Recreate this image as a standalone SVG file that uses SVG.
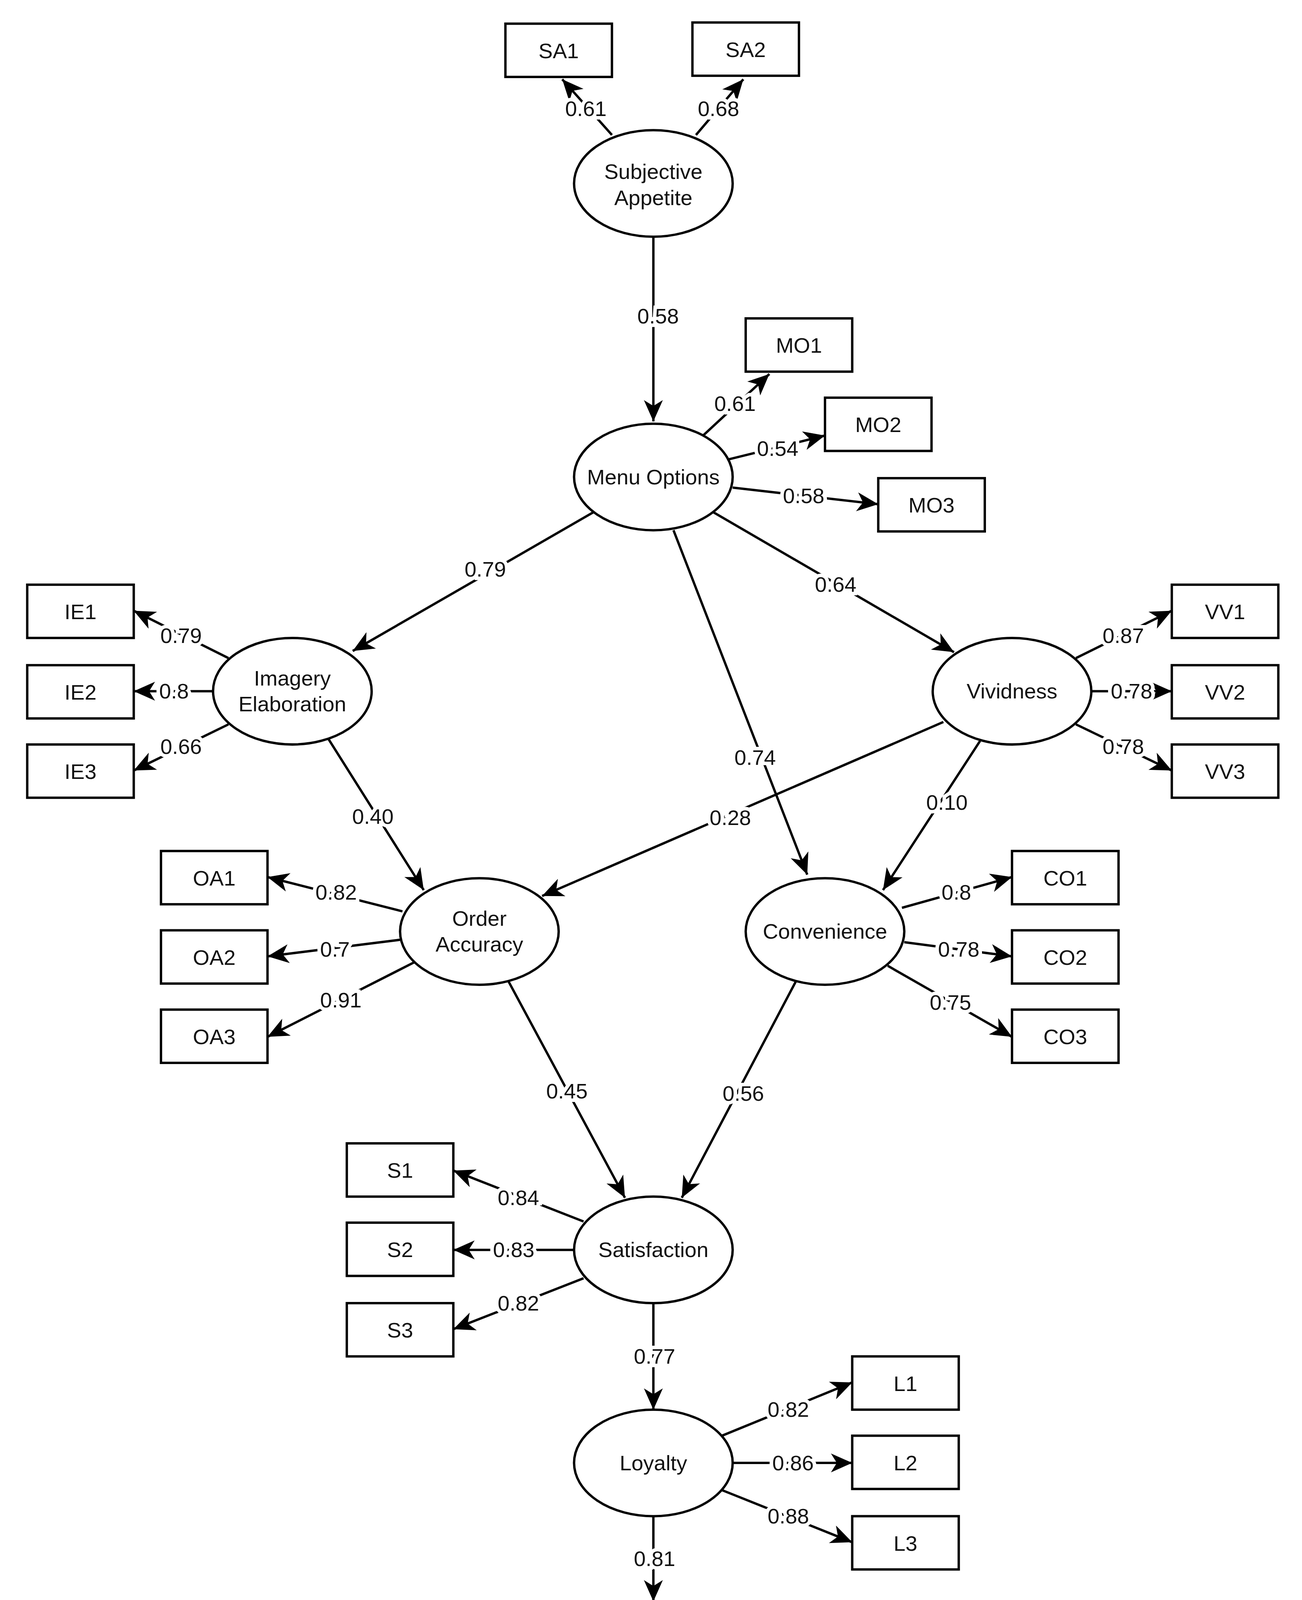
<svg xmlns="http://www.w3.org/2000/svg" width="3333" height="4746" viewBox="0 0 3333 4746">
<style>
.n{fill:#fff;stroke:#000;stroke-width:2}
.t{font-family:"Liberation Sans",Arial,sans-serif;font-size:18px;text-anchor:middle;dominant-baseline:central;fill:#111}
.e line{stroke:#000;stroke-width:2;marker-end:url(#a)}
.l{font-family:"Liberation Sans",Arial,sans-serif;font-size:18px;text-anchor:middle;dominant-baseline:central;fill:#111;stroke:#fff;stroke-width:6;paint-order:stroke}
</style>
<defs><marker id="a" markerUnits="userSpaceOnUse" markerWidth="20" markerHeight="16" refX="18" refY="8" orient="auto"><path d="M0,0 L18,8 L0,16 L5,8 Z" fill="#000"/></marker></defs>
<rect width="3333" height="4746" fill="#fff"/>
<g transform="scale(3.03)">
<g class="e" id="connectors">
<line x1="517" y1="114" x2="475" y2="67"/>
<line x1="588" y1="114" x2="628" y2="67"/>
<line x1="552" y1="200" x2="552" y2="356"/>
<line x1="594" y1="368" x2="650" y2="316"/>
<line x1="616" y1="388" x2="697" y2="368"/>
<line x1="619" y1="412" x2="742" y2="426"/>
<line x1="501" y1="433" x2="298" y2="550"/>
<line x1="603" y1="433" x2="806" y2="551"/>
<line x1="569" y1="448" x2="682" y2="739"/>
<line x1="909" y1="556" x2="990" y2="516"/>
<line x1="922" y1="584" x2="990" y2="584"/>
<line x1="909" y1="612" x2="990" y2="651"/>
<line x1="193" y1="556" x2="113" y2="516"/>
<line x1="180" y1="584" x2="113" y2="584"/>
<line x1="193" y1="612" x2="113" y2="651"/>
<line x1="276" y1="622" x2="358" y2="752"/>
<line x1="797" y1="610" x2="458" y2="757"/>
<line x1="828" y1="626" x2="746" y2="752"/>
<line x1="340" y1="770" x2="226" y2="741"/>
<line x1="338" y1="794" x2="226" y2="808"/>
<line x1="350" y1="813" x2="226" y2="876"/>
<line x1="762" y1="767" x2="855" y2="741"/>
<line x1="764" y1="796" x2="855" y2="808"/>
<line x1="750" y1="816" x2="855" y2="876"/>
<line x1="429" y1="828" x2="528" y2="1012"/>
<line x1="673" y1="828" x2="576" y2="1012"/>
<line x1="493" y1="1032" x2="383" y2="989"/>
<line x1="485" y1="1056" x2="383" y2="1056"/>
<line x1="493" y1="1080" x2="383" y2="1123"/>
<line x1="552" y1="1101" x2="552" y2="1191"/>
<line x1="610" y1="1213" x2="720" y2="1168"/>
<line x1="619" y1="1236" x2="720" y2="1236"/>
<line x1="610" y1="1259" x2="720" y2="1303"/>
<line x1="552" y1="1281" x2="552" y2="1353"/>
<line x1="501" y1="1428" x2="405" y2="1483"/>
<line x1="552" y1="1443" x2="552" y2="1506"/>
<line x1="603" y1="1428" x2="697" y2="1483"/>
</g>
<g id="labels">
<text class="l" x="495" y="92">0.61</text><text class="l" x="607" y="92">0.68</text>
<text class="l" x="556" y="267">0.58</text><text class="l" x="621" y="341">0.61</text>
<text class="l" x="657" y="379">0.54</text><text class="l" x="679" y="419">0.58</text>
<text class="l" x="410" y="481">0.79</text><text class="l" x="706" y="494">0.64</text>
<text class="l" x="638" y="640">0.74</text>
<text class="l" x="949" y="537">0.87</text><text class="l" x="956" y="584">0.78</text><text class="l" x="949" y="631">0.78</text>
<text class="l" x="153" y="537">0.79</text><text class="l" x="147" y="584">0.8</text><text class="l" x="153" y="631">0.66</text>
<text class="l" x="315" y="690">0.40</text><text class="l" x="617" y="691">0.28</text><text class="l" x="800" y="678">0.10</text>
<text class="l" x="284" y="754">0.82</text><text class="l" x="283" y="802">0.7</text><text class="l" x="288" y="845">0.91</text>
<text class="l" x="808" y="754">0.8</text><text class="l" x="810" y="802">0.78</text><text class="l" x="803" y="847">0.75</text>
<text class="l" x="479" y="922">0.45</text><text class="l" x="628" y="924">0.56</text>
<text class="l" x="438" y="1012">0.84</text><text class="l" x="434" y="1056">0.83</text><text class="l" x="438" y="1101">0.82</text>
<text class="l" x="553" y="1146">0.77</text>
<text class="l" x="666" y="1191">0.82</text><text class="l" x="670" y="1236">0.86</text><text class="l" x="666" y="1281">0.88</text>
<text class="l" x="553" y="1317">0.81</text>
<text class="l" x="455" y="1455">0.85</text><text class="l" x="553" y="1474">0.91</text><text class="l" x="650" y="1457">0.9</text>
</g>
<g id="SA"><ellipse class="n" cx="552" cy="155" rx="67" ry="45"/><text class="t" x="552" y="145">Subjective</text><text class="t" x="552" y="167">Appetite</text></g>
<g id="MO"><ellipse class="n" cx="552" cy="403" rx="67" ry="45"/><text class="t" x="552" y="403">Menu Options</text></g>
<g id="IE"><ellipse class="n" cx="247" cy="584" rx="67" ry="45"/><text class="t" x="247" y="573">Imagery</text><text class="t" x="247" y="595">Elaboration</text></g>
<g id="VV"><ellipse class="n" cx="855" cy="584" rx="67" ry="45"/><text class="t" x="855" y="584">Vividness</text></g>
<g id="OA"><ellipse class="n" cx="405" cy="787" rx="67" ry="45"/><text class="t" x="405" y="776">Order</text><text class="t" x="405" y="798">Accuracy</text></g>
<g id="CO"><ellipse class="n" cx="697" cy="787" rx="67" ry="45"/><text class="t" x="697" y="787">Convenience</text></g>
<g id="SAT"><ellipse class="n" cx="552" cy="1056" rx="67" ry="45"/><text class="t" x="552" y="1056">Satisfaction</text></g>
<g id="LOY"><ellipse class="n" cx="552" cy="1236" rx="67" ry="45"/><text class="t" x="552" y="1236">Loyalty</text></g>
<g id="RI"><ellipse class="n" cx="552" cy="1398" rx="67" ry="45"/><text class="t" x="552" y="1387">Repurchase</text><text class="t" x="552" y="1409">Intention</text></g>
<g id="SA1"><rect class="n" x="427" y="20" width="90" height="45"/><text class="t" x="472" y="43">SA1</text></g>
<g id="SA2"><rect class="n" x="585" y="19" width="90" height="45"/><text class="t" x="630" y="42">SA2</text></g>
<g id="MO1"><rect class="n" x="630" y="269" width="90" height="45"/><text class="t" x="675" y="292">MO1</text></g>
<g id="MO2"><rect class="n" x="697" y="336" width="90" height="45"/><text class="t" x="742" y="359">MO2</text></g>
<g id="MO3"><rect class="n" x="742" y="404" width="90" height="45"/><text class="t" x="787" y="427">MO3</text></g>
<g id="IE1"><rect class="n" x="23" y="494" width="90" height="45"/><text class="t" x="68" y="517">IE1</text></g>
<g id="IE2"><rect class="n" x="23" y="562" width="90" height="45"/><text class="t" x="68" y="585">IE2</text></g>
<g id="IE3"><rect class="n" x="23" y="629" width="90" height="45"/><text class="t" x="68" y="652">IE3</text></g>
<g id="VV1"><rect class="n" x="990" y="494" width="90" height="45"/><text class="t" x="1035" y="517">VV1</text></g>
<g id="VV2"><rect class="n" x="990" y="562" width="90" height="45"/><text class="t" x="1035" y="585">VV2</text></g>
<g id="VV3"><rect class="n" x="990" y="629" width="90" height="45"/><text class="t" x="1035" y="652">VV3</text></g>
<g id="OA1"><rect class="n" x="136" y="719" width="90" height="45"/><text class="t" x="181" y="742">OA1</text></g>
<g id="OA2"><rect class="n" x="136" y="786" width="90" height="45"/><text class="t" x="181" y="809">OA2</text></g>
<g id="OA3"><rect class="n" x="136" y="853" width="90" height="45"/><text class="t" x="181" y="876">OA3</text></g>
<g id="CO1"><rect class="n" x="855" y="719" width="90" height="45"/><text class="t" x="900" y="742">CO1</text></g>
<g id="CO2"><rect class="n" x="855" y="786" width="90" height="45"/><text class="t" x="900" y="809">CO2</text></g>
<g id="CO3"><rect class="n" x="855" y="853" width="90" height="45"/><text class="t" x="900" y="876">CO3</text></g>
<g id="S1"><rect class="n" x="293" y="966" width="90" height="45"/><text class="t" x="338" y="989">S1</text></g>
<g id="S2"><rect class="n" x="293" y="1033" width="90" height="45"/><text class="t" x="338" y="1056">S2</text></g>
<g id="S3"><rect class="n" x="293" y="1101" width="90" height="45"/><text class="t" x="338" y="1124">S3</text></g>
<g id="L1"><rect class="n" x="720" y="1146" width="90" height="45"/><text class="t" x="765" y="1169">L1</text></g>
<g id="L2"><rect class="n" x="720" y="1213" width="90" height="45"/><text class="t" x="765" y="1236">L2</text></g>
<g id="L3"><rect class="n" x="720" y="1281" width="90" height="45"/><text class="t" x="765" y="1304">L3</text></g>
<g id="RI1"><rect class="n" x="361" y="1483" width="90" height="45"/><text class="t" x="406" y="1506">RI1</text></g>
<g id="RI2"><rect class="n" x="508" y="1506" width="90" height="45"/><text class="t" x="553" y="1529">RI2</text></g>
<g id="RI3"><rect class="n" x="653" y="1483" width="90" height="45"/><text class="t" x="698" y="1506">RI3</text></g>
</g>
</svg>
